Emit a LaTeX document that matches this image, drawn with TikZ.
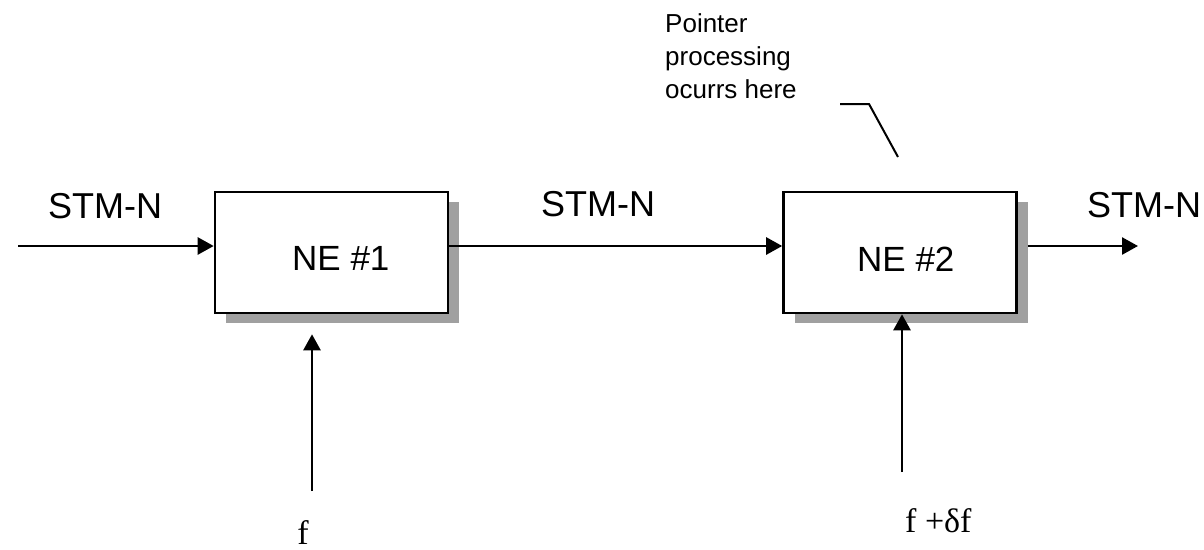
\documentclass[tikz,border=0pt]{standalone}
\usepackage{fontspec}
\setmainfont{Liberation Sans}
\newfontfamily\timesface{Liberation Serif}
\usepackage{tikz}
\usetikzlibrary{positioning}
\usetikzlibrary{shadows}
\usetikzlibrary{arrows.meta}
\definecolor{shadowgray}{RGB}{160,160,160}

\begin{document}
\begin{tikzpicture}[x=1pt, y=-1pt,
  nebox/.style={draw, line width=2.6pt, fill=white, inner sep=0pt,
    minimum width=233pt, minimum height=121pt,
    drop shadow={shadow xshift=11pt, shadow yshift=-10pt, fill=shadowgray, opacity=1}},
  sig/.style={line width=2.6pt, -{Triangle[length=16pt,width=17pt]}},
  lead/.style={line width=2pt},
  bigtxt/.style={font=\fontsize{35}{40}\selectfont, inner sep=0pt},
  stmtxt/.style={font=\fontsize{36}{40}\selectfont, inner sep=0pt},
  smalltxt/.style={font=\fontsize{26}{33}\selectfont, inner sep=0pt, align=left},
  freqtxt/.style={font=\fontsize{34}{40}\selectfont\timesface, inner sep=0pt}]

  \useasboundingbox (0,0) rectangle (1204,549);

  % Define nodes
  \node[nebox] (ne1) at (331.5,252.5) {};
  \node[nebox] (ne2) at (900,252.5) {};
  \node[bigtxt, anchor=base west] (ne1txt) at (292,270) {NE \#1};
  \node[bigtxt, anchor=base west] (ne2txt) at (857,271) {NE \#2};

  \node[stmtxt, anchor=base west] (stm_in) at (48,218) {STM-N};
  \node[stmtxt, anchor=base west] (stm_mid) at (541,216) {STM-N};
  \node[stmtxt, anchor=base west] (stm_out) at (1087,217) {STM-N};

  \node[smalltxt, anchor=north west] (note) at (665,13) {Pointer\\processing\\ocurrs here};

  \node[freqtxt, anchor=base] (f1) at (303,544) {f};
  \node[freqtxt, anchor=base west] (f2) at (905,532) {f +δf};

  \coordinate (in) at (18,246);
  \coordinate (out) at (1138,246);
  \coordinate (clk1) at (312,491);
  \coordinate (clk2) at (902,472);
  \coordinate (lead1) at (840,104);
  \coordinate (lead2) at (869,104);
  \coordinate (lead3) at (898,157);

  % Connect nodes
  \draw[sig] (in) -- (in -| ne1.west);
  \draw[sig] (in -| ne1.east) -- (in -| ne2.west);
  \draw[sig, shorten <=10pt] (out -| ne2.east) -- (out);

  \draw[sig, shorten >=20pt] (clk1) -- (clk1 |- ne1.south);
  \draw[sig] (clk2) -- (clk2 |- ne2.south);

  \draw[lead] (lead1) -- (lead2) -- (lead3);

\end{tikzpicture}
\end{document}
